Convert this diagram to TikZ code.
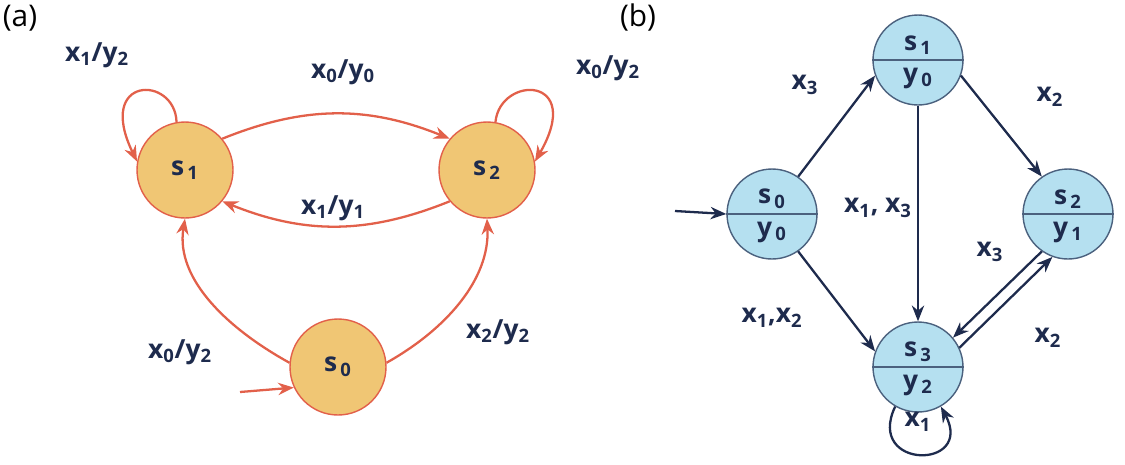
\documentclass[tikz,border=0pt]{standalone}
\usepackage{fontspec}
\setmainfont{Open Sans}
\usetikzlibrary{arrows.meta}
\definecolor{ora}{HTML}{F0C674}
\definecolor{red1}{HTML}{E2604A}
\definecolor{blu}{HTML}{B5E0F0}
\definecolor{nav}{HTML}{1E2B4D}
\begin{document}
\begin{tikzpicture}[x=0.02cm,y=-0.02cm,
 sa/.style={circle,fill=ora,draw=red1,line width=0.8pt,minimum size=1.92cm,inner sep=0pt,text=nav,font=\fontsize{15}{18}\selectfont\bfseries},
 sb/.style={circle,fill=blu,draw=nav!70!blu,line width=0.8pt,minimum size=1.8cm,inner sep=0pt},
 ea/.style={draw=red1,line width=1.3pt,-{Stealth[length=9pt,width=7pt]}},
 eb/.style={draw=nav,line width=1.3pt,-{Stealth[length=9pt,width=7pt]}},
 lb/.style={text=nav,font=\fontsize{15}{18}\selectfont\bfseries},
 tx/.style={text=nav,font=\fontsize{15}{18}\selectfont\bfseries,inner sep=0pt}]
\useasboundingbox (0,0) rectangle (1125,464);
\node[font=\fontsize{17}{20}\selectfont] (la) at (20,18) {(a)};
\node[font=\fontsize{17}{20}\selectfont] (lbb) at (638,18) {(b)};
% (a)
\node[sa] (a1) at (185,170) {s$_{\,\mathbf 1}$};
\node[sa] (a2) at (487,170) {s$_{\,\mathbf 2}$};
\node[sa] (a0) at (338,367) {s$_{\,\mathbf 0}$};
\coordinate (ai) at (240,392);
\draw[ea] (a1.40) to[bend left=22] (a2.140);
\draw[ea] (a2.220) to[bend left=22] (a1.320);
\draw[ea] (a1.100) .. controls (175,75) and (95,75) .. (a1.170);
\draw[ea] (a2.80) .. controls (500,75) and (585,75) .. (a2.10);
\draw[ea] (a0.175) .. controls (230,330) and (175,280) .. (a1.270);
\draw[ea] (a0.5) .. controls (445,330) and (490,280) .. (a2.270);
\draw[ea] (ai) -- (a0.205);
\node[lb] at (97,55) {x$_{\mathbf 1}$/y$_{\mathbf 2}$};
\node[lb] at (343,72) {x$_{\mathbf 0}$/y$_{\mathbf 0}$};
\node[lb] at (608,68) {x$_{\mathbf 0}$/y$_{\mathbf 2}$};
\node[lb] at (333,208) {x$_{\mathbf 1}$/y$_{\mathbf 1}$};
\node[lb] at (180,352) {x$_{\mathbf 0}$/y$_{\mathbf 2}$};
\node[lb] at (498,332) {x$_{\mathbf 2}$/y$_{\mathbf 2}$};
% (b)
\foreach \n/\x/\y/\s/\o in {b1/918/60/1/0,b0/772/214/0/0,b2/1068/214/2/1,b3/918/367/3/2}{
 \node[sb] (\n) at (\x,\y) {};
 \draw[draw=nav!70!blu,line width=0.8pt] (\n.180) -- (\n.0);
 \node[tx] at (\x,\y-15) {s$_{\,\mathbf\s}$};
 \node[tx] at (\x,\y+18) {y$_{\,\mathbf\o}$};
}
\coordinate (bi) at (675,211);
\draw[eb] (bi) -- (b0.180);
\draw[eb] (b0.55) -- (b1.200);
\draw[eb] (b1.340) -- (b2.125);
\draw[eb] (b1.270) -- (b3.90);
\draw[eb] (b0.305) -- (b3.160);
\draw[eb] (b2.235) -- (b3.40);
\draw[eb] (b3.25) -- (b2.250);
\draw[eb] (b3.240) .. controls (865,470) and (975,470) .. (b3.300);
\node[lb] at (805,85) {x$_{\mathbf 3}$};
\node[lb] at (1050,97) {x$_{\mathbf 2}$};
\node[lb] at (878,208) {x$_{\mathbf 1}$, x$_{\mathbf 3}$};
\node[lb] at (772,318) {x$_{\mathbf 1}$,x$_{\mathbf 2}$};
\node[lb] at (990,252) {x$_{\mathbf 3}$};
\node[lb] at (1048,338) {x$_{\mathbf 2}$};
\node[lb] at (918,422) {x$_{\mathbf 1}$};
\end{tikzpicture}
\end{document}
